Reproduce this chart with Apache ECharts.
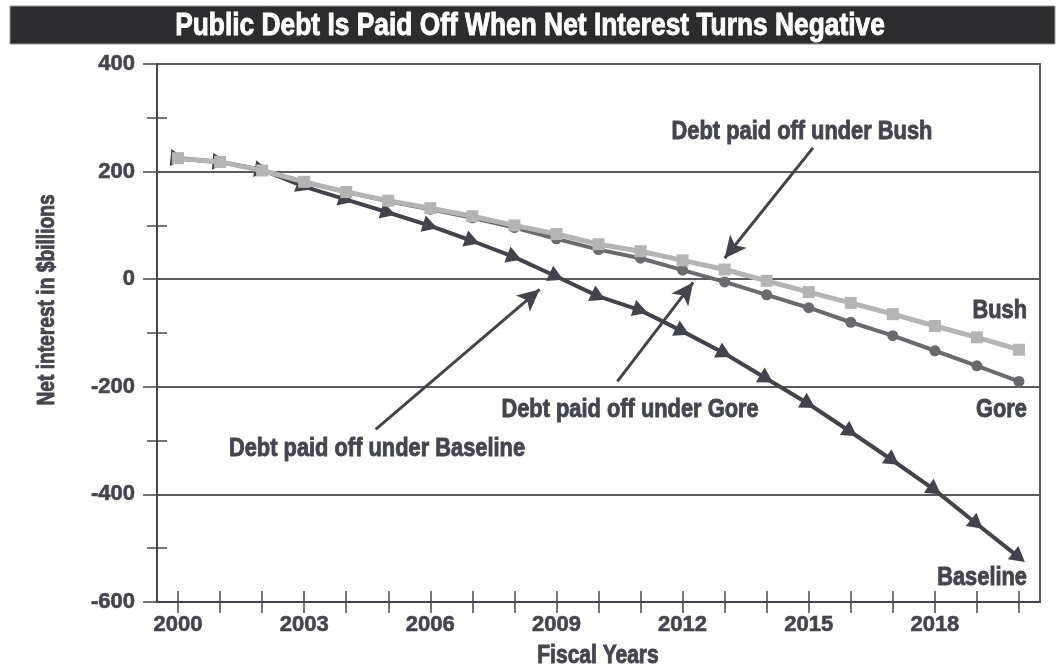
<!DOCTYPE html>
<html>
<head>
<meta charset="utf-8">
<script src="https://cdn.jsdelivr.net/npm/echarts@6/dist/echarts.min.js"></script>
<style>
  html, body { margin: 0; padding: 0; background: #ffffff; }
  #chart { width: 1058px; height: 671px; }
</style>
</head>
<body>
<div id="chart"></div>
<script>
// Fiscal years on the horizontal axis
const years = [2000, 2001, 2002, 2003, 2004, 2005, 2006, 2007, 2008, 2009, 2010,
               2011, 2012, 2013, 2014, 2015, 2016, 2017, 2018, 2019, 2020];
const yearLabels = years.map(String);

// Net interest, $billions
const bush     = [225, 218, 202, 181, 162, 146, 132, 117, 100, 84, 65, 52, 35, 18, -3, -24, -44, -65, -87, -108, -131];
const gore     = [224, 218, 203, 180, 162, 145, 130, 114, 96, 75, 55, 39, 17, -5, -29, -53, -80, -105, -133, -161, -190];
const baseline = [225, 218, 203, 172, 148, 124, 99, 71, 41, 5, -32, -58, -97, -138, -185, -232, -284, -337, -392, -455, -517];

// Y-axis ticks
const yTicks = [-600, -400, -200, 0, 200, 400];

// Callout arrows: [tail, head] in [year, $billions]
const arrowBush     = [[2015.1, 244], [2013.0, 39]];
const arrowGore     = [[2010.45, -190], [2012.25, -6]];
const arrowBaseline = [[2004.7, -279], [2008.6, -19]];

const INK = '#45454f';
const FONT = '"Liberation Sans", Arial, Helvetica, sans-serif';

const chart = echarts.init(document.getElementById('chart'), null, { renderer: 'canvas' });

function pairs(vals) { return years.map((y, i) => [y, vals[i]]); }
function arrowLine(a) { return [{ coord: a[0] }, { coord: a[1] }]; }

// Heavy condensed text for the title, axis names and callouts
function label(text, x, y, size, squeeze, align, color, extra) {
  const c = color || INK;
  return Object.assign({
    type: 'text', x: x, y: y, scaleX: squeeze, z: 20,
    style: {
      text: text, fill: c, stroke: c, lineWidth: 0.9,
      font: 'bold ' + size + 'px ' + FONT, textAlign: align, textVerticalAlign: 'middle'
    }
  }, extra || {});
}

const tickLabel = {
  color: INK, fontFamily: FONT, fontWeight: 'bold', fontSize: 22,
  textBorderColor: INK, textBorderWidth: 0.6
};

const option = {
  animation: false,
  backgroundColor: '#ffffff',
  grid: {
    left: 157, right: 18, top: 64, bottom: 69,
    show: true, borderColor: '#5a5a60', borderWidth: 2, backgroundColor: 'transparent'
  },
  xAxis: [
    {
      type: 'category', data: yearLabels, boundaryGap: true, position: 'bottom',
      axisLine: { show: true, onZero: false, lineStyle: { color: INK, width: 2 } },
      axisTick: { show: true, interval: 0, alignWithLabel: true, length: 11, lineStyle: { color: INK, width: 1.5 } },
      axisLabel: Object.assign({ interval: 2, margin: 12 }, tickLabel),
      splitLine: { show: false }
    },
    {
      type: 'category', data: yearLabels, boundaryGap: true, position: 'bottom',
      axisLine: { show: false, onZero: false },
      axisTick: { show: true, inside: true, interval: 0, alignWithLabel: true, length: 11, lineStyle: { color: INK, width: 1.5 } },
      axisLabel: { show: false },
      splitLine: { show: false }
    },
    {
      type: 'value', min: years[0] - 0.5, max: years[years.length - 1] + 0.5, show: false,
      splitLine: { show: false }
    }
  ],
  yAxis: [
    {
      type: 'value', min: yTicks[0], max: yTicks[yTicks.length - 1], interval: 200,
      axisLine: { show: true, lineStyle: { color: INK, width: 2 } },
      axisTick: { show: true, length: 14, lineStyle: { color: INK, width: 1.5 } },
      minorTick: { show: true, splitNumber: 2, length: 10, lineStyle: { color: INK, width: 1.5 } },
      axisLabel: Object.assign({ margin: 22 }, tickLabel),
      splitLine: { show: true, lineStyle: { color: '#5a5a60', width: 2 } }
    },
    {
      type: 'value', min: yTicks[0], max: yTicks[yTicks.length - 1], interval: 200, position: 'left',
      axisLine: { show: false, onZero: false },
      axisTick: { show: false, inside: true },
      minorTick: { show: true, splitNumber: 2, length: 10, lineStyle: { color: INK, width: 1.5 } },
      axisLabel: { show: false },
      splitLine: { show: false }
    }
  ],
  graphic: [
    {
      type: 'rect', z: 10, shape: { x: 10, y: 6, width: 1045, height: 38 },
      style: { fill: '#2c2c2e', stroke: '#9a9a9a', lineWidth: 1 }
    },
    label('Public Debt Is Paid Off When Net Interest Turns Negative', 530, 26, 31, 0.85, 'center', '#ffffff'),
    label('Net interest in $billions', 47, 300, 24, 0.8, 'center', INK, { rotation: Math.PI / 2 }),
    label('Fiscal Years', 598, 656, 25, 0.84, 'center'),
    label('Debt paid off under Bush', 802, 132, 26, 0.84, 'center'),
    label('Debt paid off under Gore', 630, 410, 26, 0.84, 'center'),
    label('Debt paid off under Baseline', 377, 449, 26, 0.84, 'center'),
    label('Bush', 1027, 311, 26, 0.84, 'right'),
    label('Gore', 1027, 410, 26, 0.84, 'right'),
    label('Baseline', 1027, 578, 26, 0.84, 'right')
  ],
  series: [
    {
      name: 'Baseline', type: 'line', xAxisIndex: 2, yAxisIndex: 0,
      data: pairs(baseline),
      symbol: 'triangle', symbolSize: [17, 15], showAllSymbol: true,
      itemStyle: { color: '#43434d' },
      lineStyle: { color: '#43434d', width: 4 },
      z: 3,
      markLine: {
        silent: true, symbol: ['none', 'arrow'], symbolSize: [16, 22], animation: false,
        label: { show: false },
        lineStyle: { color: '#43434d', width: 3, type: 'solid' },
        data: [arrowLine(arrowBush), arrowLine(arrowGore), arrowLine(arrowBaseline)]
      }
    },
    {
      name: 'Gore', type: 'line', xAxisIndex: 2, yAxisIndex: 0,
      data: pairs(gore),
      symbol: 'circle', symbolSize: 11, showAllSymbol: true,
      itemStyle: { color: '#6a6a6e' },
      lineStyle: { color: '#6a6a6e', width: 4 },
      z: 4
    },
    {
      name: 'Bush', type: 'line', xAxisIndex: 2, yAxisIndex: 0,
      data: pairs(bush),
      symbol: 'rect', symbolSize: 12, showAllSymbol: true,
      itemStyle: { color: '#b4b4b4' },
      lineStyle: { color: '#b4b4b4', width: 5 },
      z: 5
    }
  ]
};

chart.setOption(option);

// Turn each baseline triangle to point along the line, using the laid-out axes
const px = pairs(baseline).map(p => chart.convertToPixel({ xAxisIndex: 2, yAxisIndex: 0 }, p));
const rotated = pairs(baseline).map((p, i) => {
  const a = px[i === 0 ? 0 : i - 1];
  const b = px[i === 0 ? 1 : i];
  const ang = Math.atan2(-(b[1] - a[1]), b[0] - a[0]) * 180 / Math.PI;
  return { value: p, symbolRotate: ang - 90 };
});
chart.setOption({ series: [{ name: 'Baseline', data: rotated }] });
</script>
</body>
</html>
